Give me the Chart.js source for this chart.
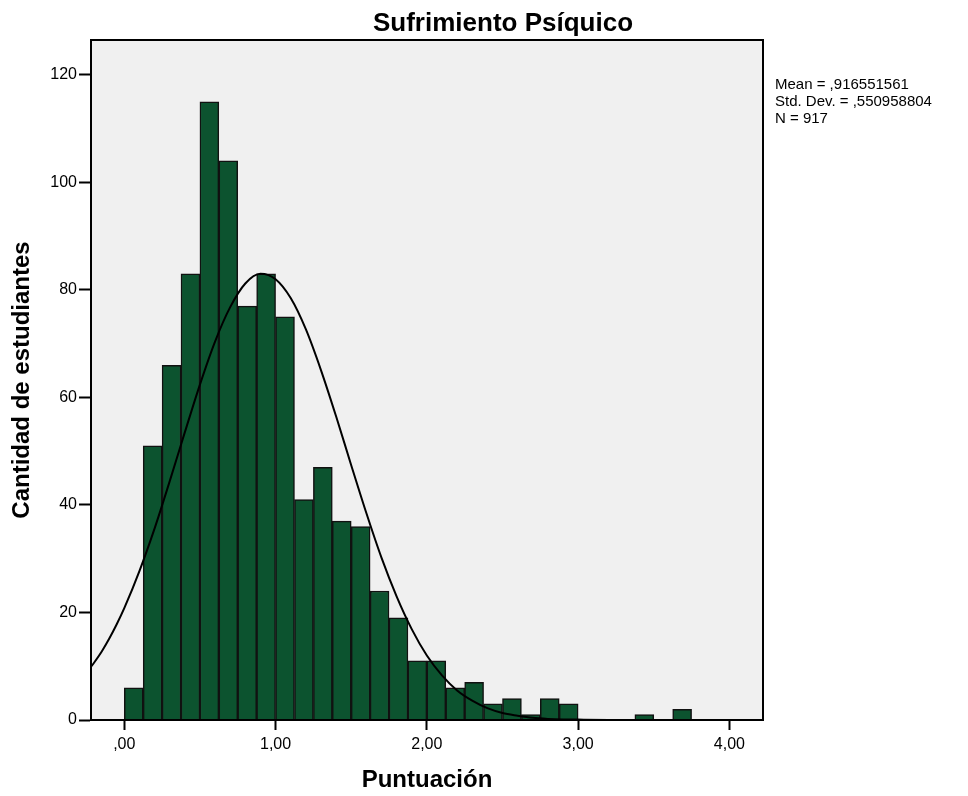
<!DOCTYPE html>
<html>
<head>
<meta charset="utf-8">
<script src="https://cdn.jsdelivr.net/npm/chart.js@4.4.1/dist/chart.umd.min.js"></script>
<style>
  html, body { margin: 0; padding: 0; background: #ffffff; }
  #wrap { width: 968px; height: 796px; }
</style>
</head>
<body>
<div id="wrap"><canvas id="c" width="968" height="796"></canvas></div>
<script>
// ---- data ----
const chartTitle = 'Sufrimiento Psíquico';
const xAxisTitle = 'Puntuación';
const yAxisTitle = 'Cantidad de estudiantes';
const statsLines = ['Mean = ,916551561', 'Std. Dev. = ,550958804', 'N = 917'];

const binWidth = 0.125;
const binStarts = [0, 0.125, 0.25, 0.375, 0.5, 0.625, 0.75, 0.875, 1.0, 1.125,
                   1.25, 1.375, 1.5, 1.625, 1.75, 1.875, 2.0, 2.125, 2.25, 2.375,
                   2.5, 2.625, 2.75, 2.875, 3.0, 3.125, 3.25, 3.375, 3.5, 3.625, 3.75];
const counts = [6, 51, 66, 83, 115, 104, 77, 83, 75, 41,
                47, 37, 36, 24, 19, 11, 11, 6, 7, 3,
                4, 1, 4, 3, 0, 0, 0, 1, 0, 2, 0];

// normal curve
const curveX = [-0.22, -0.2, -0.15, -0.1, -0.05, 0, 0.1, 0.2, 0.3, 0.4, 0.5, 0.6, 0.7, 0.8, 0.9, 1.0,
                1.1, 1.2, 1.3, 1.4, 1.5, 1.6, 1.7, 1.8, 1.9, 2.0, 2.1, 2.2, 2.3,
                2.4, 2.5, 2.6, 2.7, 2.8, 2.9, 3.0, 3.2, 3.5, 3.9, 4.22];
const curveY = [9.9, 10.65, 12.7, 15.1, 17.8, 20.8, 27.7, 35.6, 44.4, 53.5, 62.4, 70.4, 76.8, 81.2, 83.0, 82.0,
                78.5, 72.7, 65.1, 56.5, 47.4, 38.5, 30.2, 23.0, 16.9, 12.0, 8.3, 5.5, 3.6,
                2.2, 1.3, 0.8, 0.4, 0.2, 0.1, 0.07, 0.02, 0, 0, 0];

const xTickValues = [0, 1, 2, 3, 4];
const xTickLabels = [',00', '1,00', '2,00', '3,00', '4,00'];
const yTickValues = [0, 20, 40, 60, 80, 100, 120];
const yTickLabels = ['0', '20', '40', '60', '80', '100', '120'];

const xMin = -0.22, xMax = 4.222;
const yMin = 0, yMax = 126.5;

// ---- build ----
const barData = binStarts.map((s, i) => ({ x: s + binWidth / 2, y: counts[i] }));
const lineData = curveX.map((x, i) => ({ x: x, y: curveY[i] }));

const FONT = "'Liberation Sans', Arial, sans-serif";

const framePlugin = {
  id: 'frame',
  beforeDatasetsDraw(chart) {
    const { ctx, chartArea: a } = chart;
    ctx.save();
    ctx.fillStyle = '#f0f0f0';
    ctx.fillRect(a.left, a.top, a.right - a.left, a.bottom - a.top);
    ctx.restore();
  },
  afterDraw(chart) {
    const { ctx, chartArea: a } = chart;
    ctx.save();
    ctx.strokeStyle = '#000';
    ctx.lineWidth = 2;
    ctx.strokeRect(a.left, a.top, a.right - a.left, a.bottom - a.top);
    // title
    ctx.fillStyle = '#000';
    ctx.font = "bold 26px " + FONT;
    ctx.textAlign = 'center';
    ctx.textBaseline = 'alphabetic';
    ctx.fillText(chartTitle, 503, 31);
    // stats
    ctx.font = "15px " + FONT;
    ctx.textAlign = 'left';
    statsLines.forEach((t, i) => ctx.fillText(t, a.right + 12, 89 + i * 17));
    ctx.restore();
  }
};

new Chart(document.getElementById('c'), {
  type: 'bar',
  data: {
    datasets: [
      {
        type: 'line',
        data: lineData,
        borderColor: '#000',
        borderWidth: 2,
        pointRadius: 0,
        cubicInterpolationMode: 'monotone',
        fill: false,
        order: 0
      },
      {
        type: 'bar',
        data: barData,
        backgroundColor: '#0c532f',
        borderColor: '#111',
        borderWidth: 1.5,
        barPercentage: 1,
        categoryPercentage: 1,
        grouped: false,
        order: 1
      }
    ]
  },
  options: {
    responsive: false,
    animation: false,
    devicePixelRatio: 1,
    layout: { padding: { left: 0, right: 205, top: 40, bottom: 0 } },
    plugins: {
      legend: { display: false },
      tooltip: { enabled: false },
      title: { display: false }
    },
    scales: {
      x: {
        type: 'linear',
        min: xMin, max: xMax,
        offset: false,
        afterFit(s) { s.height = 76; },
        afterBuildTicks(s) { s.ticks = xTickValues.map(v => ({ value: v })); },
        grid: { offset: false, drawOnChartArea: false, drawTicks: true, tickLength: 10, tickColor: '#000', tickWidth: 2 },
        border: { display: true, color: '#000', width: 2 },
        ticks: {
          color: '#000', padding: 5, maxRotation: 0, autoSkip: false,
          font: { family: FONT, size: 16 },
          callback: (v) => { const i = xTickValues.indexOf(v); return i >= 0 ? xTickLabels[i] : ''; }
        },
        title: {
          display: true, text: xAxisTitle, color: '#000',
          font: { family: FONT, size: 24, weight: 'bold' },
          padding: { top: 0, bottom: 1 }
        }
      },
      y: {
        type: 'linear',
        min: yMin, max: yMax,
        afterFit(s) { s.width = 91; },
        afterBuildTicks(s) { s.ticks = yTickValues.map(v => ({ value: v })); },
        grid: { drawOnChartArea: false, drawTicks: true, tickLength: 12, tickColor: '#000', tickWidth: 2 },
        border: { display: true, color: '#000', width: 2 },
        ticks: {
          color: '#000', padding: 2,
          font: { family: FONT, size: 16 },
          callback: (v) => { const i = yTickValues.indexOf(v); return i >= 0 ? yTickLabels[i] : ''; }
        },
        title: {
          display: true, text: yAxisTitle, color: '#000',
          font: { family: FONT, size: 24, weight: 'bold' },
          padding: { top: 8, bottom: 0 }
        }
      }
    }
  },
  plugins: [framePlugin]
});
</script>
</body>
</html>
